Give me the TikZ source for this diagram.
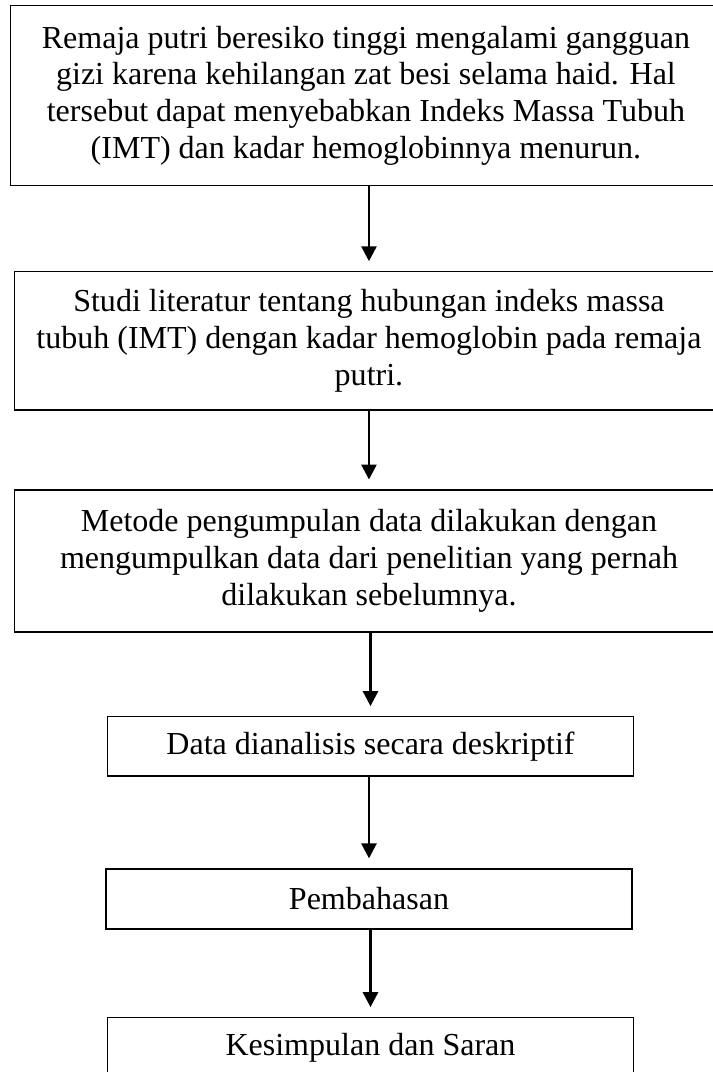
\documentclass[tikz,border=0pt]{standalone}
\usepackage{fontspec}
\setmainfont{Liberation Serif}
\usetikzlibrary{arrows.meta}

\tikzset{
    kotak/.style={draw, line width=0.5pt, inner sep=0pt, align=center,
        font=\fontsize{12}{13.8}\selectfont},
    panah/.style={-{Triangle[length=5.6pt,width=5.6pt]}, line width=1pt,
        shorten >=0.13cm}
}

\begin{document}
\begin{tikzpicture}
    % Cadre de l'image
    \useasboundingbox (0,0) rectangle (9.39,14.12);
    \clip (0,0) rectangle (9.39,14.12);

    % Boîtes larges du haut
    \node[kotak, minimum width=9.37cm, minimum height=2.37cm] (masalah) at (4.82,12.86)
        {Remaja putri beresiko tinggi mengalami gangguan\\
         gizi karena kehilangan zat besi selama haid. Hal\\
         tersebut dapat menyebabkan Indeks Massa Tubuh\\
         (IMT) dan kadar hemoglobinnya menurun.};
    \node[kotak, minimum width=9.33cm, minimum height=1.82cm] (studi) at (4.86,9.63)
        {Studi literatur tentang hubungan indeks massa\\
         tubuh (IMT) dengan kadar hemoglobin pada remaja\\
         putri.};
    \node[kotak, minimum width=9.33cm, minimum height=1.87cm] (metode) at (4.86,6.73)
        {Metode pengumpulan data dilakukan dengan\\
         mengumpulkan data dari penelitian yang pernah\\
         dilakukan sebelumnya.};

    % Boîtes étroites du bas
    \node[kotak, minimum width=6.93cm, minimum height=0.78cm] (analisis) at (4.88,4.29)
        {Data dianalisis secara deskriptif};
    \node[kotak, minimum width=6.93cm, minimum height=0.79cm] (bahas) at (4.86,2.28)
        {Pembahasan};
    \node[kotak, minimum width=6.93cm, minimum height=0.79cm] (simpul) at (4.88,0.32)
        {Kesimpulan dan Saran};

    % Flèches entre les boîtes
    \draw[panah] (masalah.south -| studi.north) -- (studi.north);
    \draw[panah] (studi.south) -- (metode.north);
    \draw[panah] (metode.south -| analisis.north) -- (analisis.north);
    \draw[panah] (analisis.south -| bahas.north) -- (bahas.north);
    \draw[panah] (bahas.south -| simpul.north) -- (simpul.north);
\end{tikzpicture}
\end{document}
